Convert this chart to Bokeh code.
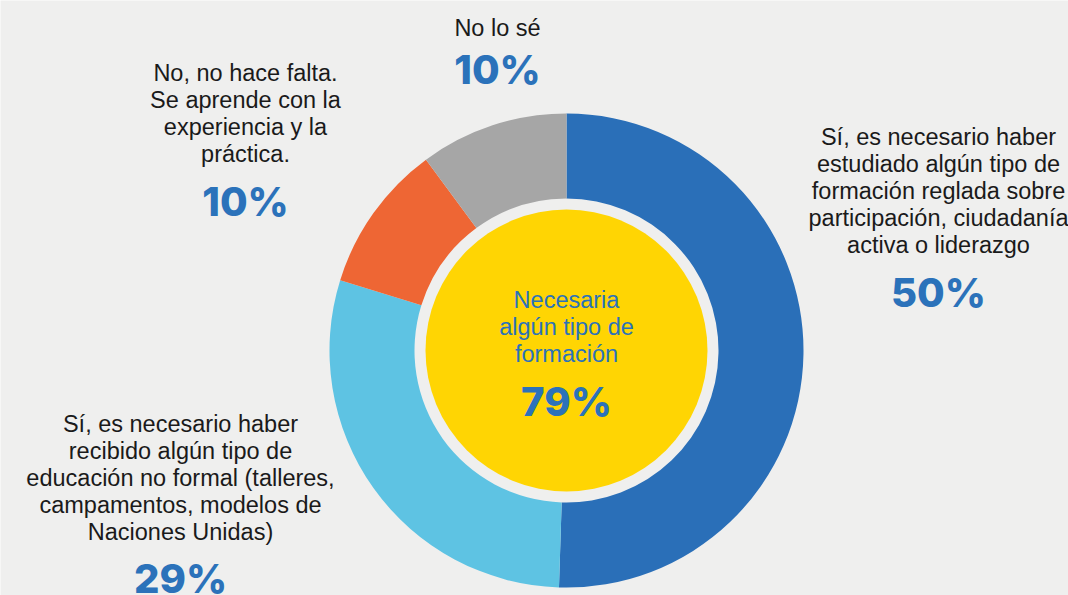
from bokeh.plotting import figure
from bokeh.models import Range1d, ColumnDataSource
from bokeh.core.properties import value
from bokeh.embed import file_html
from bokeh.resources import INLINE
import math

# ---- data ----
categories = [
    "Sí, es necesario haber\nestudiado algún tipo de\nformación reglada sobre\nparticipación, ciudadanía\nactiva o liderazgo",
    "Sí, es necesario haber\nrecibido algún tipo de\neducación no formal (talleres,\ncampamentos, modelos de\nNaciones Unidas)",
    "No, no hace falta.\nSe aprende con la\nexperiencia y la\npráctica.",
    "No lo sé",
]
values = [50, 29, 10, 10]
colors = ["#2a6fb8", "#5ec3e3", "#ee6634", "#a6a6a6"]
center_label = "Necesaria\nalgún tipo de\nformación"
center_value = 79

BG = "#efefee"
PCT_COLOR = "#2b72ba"

W, H = 1068, 595
p = figure(width=W, height=H, output_backend="svg", toolbar_location=None,
           x_range=Range1d(0, W), y_range=Range1d(0, H),
           min_border=0, outline_line_color=None,
           background_fill_color=BG, border_fill_color=BG)
p.axis.visible = False
p.grid.visible = False

def sy(Y):  # screen y -> data y
    return H - Y

cx, cy = 566, sy(350)
r_out, r_in, r_center = 237, 152, 141

total = sum(values)
starts, ends = [], []
cum = 0.0
for v in values:
    c0 = cum / total
    cum += v
    c1 = cum / total
    starts.append(math.pi / 2 - c1 * 2 * math.pi)
    ends.append(math.pi / 2 - c0 * 2 * math.pi)

src = ColumnDataSource(dict(x=[cx] * len(values), y=[cy] * len(values),
                            start=starts, end=ends, color=colors))
p.annular_wedge(x="x", y="y", inner_radius=r_in, outer_radius=r_out,
                start_angle="start", end_angle="end", fill_color="color",
                line_color=None, source=src)
p.circle(x=[cx], y=[cy], radius=r_center, fill_color="#ffd503", line_color=None)

BODY = value("Liberation Sans")
PCT = value("Inter ExtraBold, Inter")

def label(lines_text, pct, x, first_baseline, pct_baseline, color="#1a1a1a"):
    lines = lines_text.split("\n")
    ys = [sy(first_baseline + 27 * i) for i in range(len(lines))]
    p.text(x=[x] * len(lines), y=ys, text=lines, text_font=BODY,
           text_font_size="23.5px", text_color=color, text_align="center",
           text_baseline="alphabetic")
    p.text(x=[x], y=[sy(pct_baseline)], text=[f"{pct}%"], text_font=PCT,
           text_font_size="40px", text_font_style="bold", text_color=PCT_COLOR,
           text_align="center", text_baseline="alphabetic")

label(categories[0], values[0], 938, 136, 292)
label(categories[1], values[1], 180, 423, 578)
label(categories[2], values[2], 245, 72, 201)
label(categories[3], values[3], 497, 27, 69)
label(center_label, center_value, 566, 299, 401, color=PCT_COLOR)

open("out.html", "w").write(file_html(p, INLINE))
